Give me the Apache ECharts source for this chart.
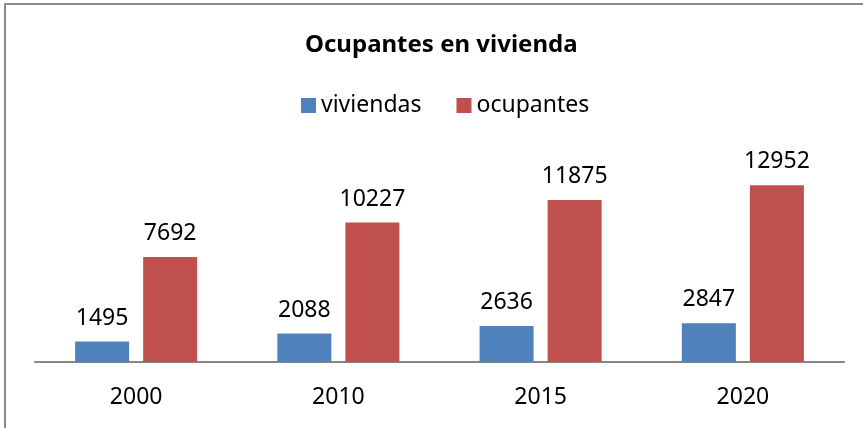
<!DOCTYPE html>
<html lang="es">

<head>
    <meta charset="UTF-8">
    <title>Ocupantes en vivienda</title>
    <script src="https://cdn.jsdelivr.net/npm/echarts/dist/echarts.min.js"></script>
    <style>
        body {
            margin: 0;
        }
        #chart {
            width: 863px;
            height: 428px;
        }
    </style>
</head>

<body>
    <div id="chart"></div>

    <script>
        // datos
        let years = ['2000', '2010', '2015', '2020'];
        let viviendas = [1495, 2088, 2636, 2847];
        let ocupantes = [7692, 10227, 11875, 12952];

        let fontName = '"Noto Sans", sans-serif';

        let chart = echarts.init(document.getElementById('chart'));
        let option = {
            animation: false,
            // marco del gráfico (solo arriba e izquierda se ven)
            graphic: [{
                type: 'rect',
                shape: { x: 5, y: 4, width: 900, height: 500 },
                style: { fill: 'none', stroke: '#8c8c8c', lineWidth: 2 }
            }],
            title: {
                text: 'Ocupantes en vivienda',
                left: 300,
                top: 28,
                textStyle: {
                    fontFamily: fontName,
                    fontWeight: 'bold',
                    fontSize: 24,
                    color: '#000'
                }
            },
            legend: {
                data: ['viviendas', 'ocupantes'],
                left: 296,
                top: 89,
                icon: 'rect',
                itemWidth: 15,
                itemHeight: 15,
                itemGap: 35,
                textStyle: {
                    fontFamily: fontName,
                    fontSize: 23,
                    color: '#000'
                }
            },
            grid: {
                left: 35,
                right: 19,
                top: 171,
                bottom: 66
            },
            xAxis: {
                type: 'category',
                data: years,
                axisLine: { lineStyle: { color: '#868686', width: 2 } },
                axisTick: { show: false },
                axisLabel: {
                    margin: 24,
                    fontFamily: fontName,
                    fontSize: 23,
                    color: '#000'
                }
            },
            yAxis: {
                type: 'value',
                min: 0,
                max: 14000,
                show: false,
                splitLine: { show: false }
            },
            series: [
                {
                    name: 'viviendas',
                    type: 'bar',
                    data: viviendas,
                    barWidth: 54,
                    barGap: '26%',
                    itemStyle: { color: '#4f81bd' },
                    label: {
                        show: true,
                        position: 'top',
                        distance: 12,
                        fontFamily: fontName,
                        fontSize: 23,
                        color: '#000'
                    }
                },
                {
                    name: 'ocupantes',
                    type: 'bar',
                    data: ocupantes,
                    barWidth: 54,
                    itemStyle: { color: '#c0504d' },
                    label: {
                        show: true,
                        position: 'top',
                        distance: 12,
                        fontFamily: fontName,
                        fontSize: 23,
                        color: '#000'
                    }
                }
            ]
        };
        chart.setOption(option);
    </script>
</body>

</html>
